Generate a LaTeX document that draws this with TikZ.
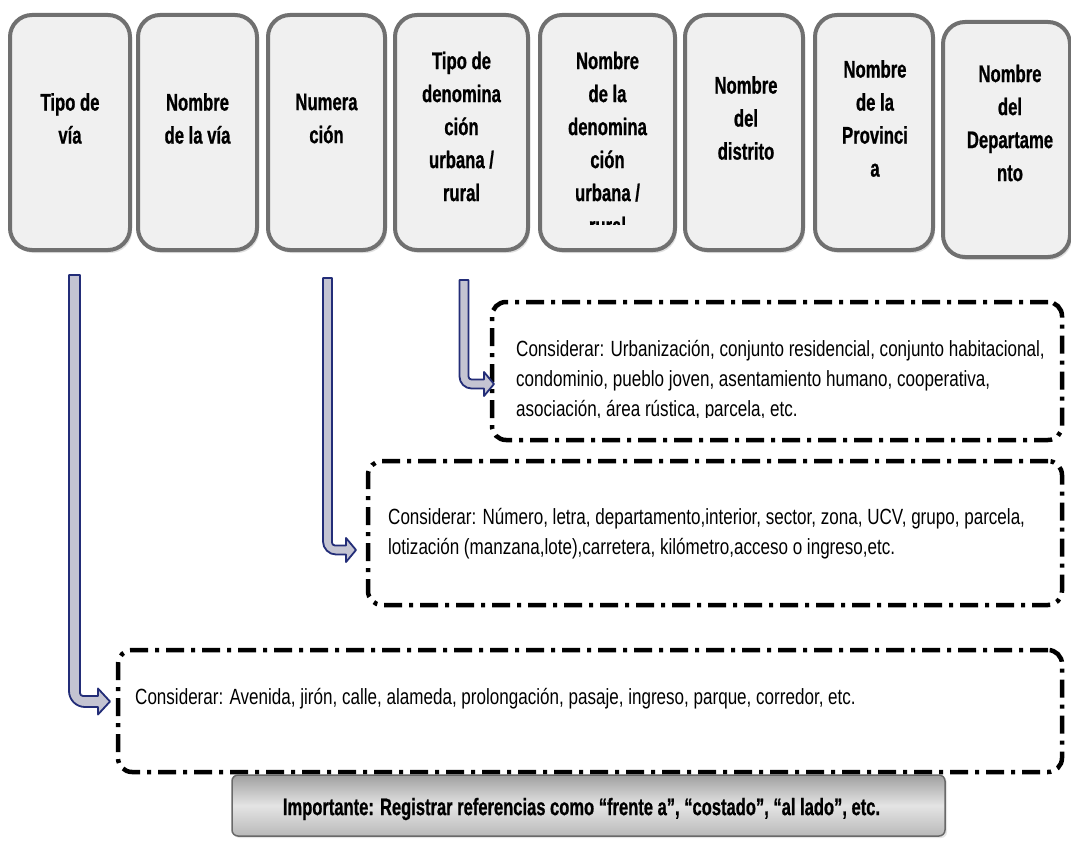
\documentclass[tikz,border=0pt]{standalone}
\usepackage{fontspec}
\setmainfont{Liberation Sans}
\newfontfamily\condbold[FakeStretch=0.695, FakeBold=0.8]{Liberation Sans Bold}
\newfontfamily\condreg[FakeStretch=0.775]{Liberation Sans}
\usetikzlibrary{shadows}

\definecolor{boxfill}{RGB}{240,240,240}
\definecolor{boxedge}{RGB}{112,112,112}
\definecolor{navy}{RGB}{35,45,120}
\definecolor{arrowfill}{RGB}{196,196,210}
\definecolor{noteedge}{RGB}{105,105,105}

\tikzset{
  field/.style={draw=boxedge, line width=4pt, fill=boxfill, rounded corners=22pt,
    inner sep=0pt, drop shadow={opacity=0.25, shadow xshift=2pt, shadow yshift=-3pt}},
  fieldlabel/.style={font={\condbold\fontsize{24}{33}\selectfont}, align=center, inner sep=0pt},
  hintbox/.style={draw=black, line width=4.5pt, dash pattern=on 18pt off 7pt on 4pt off 7pt,
    rounded corners=14pt, inner sep=0pt},
  hinttext/.style={font={\condreg\fontsize{22}{30}\selectfont}, align=left, inner sep=0pt, anchor=west},
  notebar/.style={draw=noteedge, line width=1.5pt, rounded corners=6pt, inner sep=0pt,
    top color={rgb,255:red,160;green,160;blue,160}, bottom color={rgb,255:red,185;green,185;blue,185},
    middle color={rgb,255:red,228;green,228;blue,228},
    drop shadow={opacity=0.2, shadow xshift=2pt, shadow yshift=-2pt}},
  notetext/.style={font={\condbold\fontsize{23.8}{27}\selectfont}, inner sep=0pt},
  bentarrow/.style={fill=arrowfill, draw=navy, line width=1.8pt, line join=round}
}

% bent block arrow: #1 shaft x, #2 half width, #3 top y, #4 level y,
% #5 tip x, #6 head length, #7 head half height, #8 bend radius
\newcommand\blockarrow[8]{%
  \filldraw[bentarrow] (#1-#2,#3) -- (#1-#2,#4+#2-#8)
    .. controls (#1-#2,#4+#2-0.45*#8) and (#1-#2+0.45*#8,#4+#2) .. (#1-#2+#8,#4+#2)
    -- (#5-#6,#4+#2) -- (#5-#6,#4+#7) -- (#5,#4) -- (#5-#6,#4-#7) -- (#5-#6,#4-#2)
    -- (#1+#2+3,#4-#2) .. controls (#1+#2+1.3,#4-#2) and (#1+#2,#4-#2-1.3) .. (#1+#2,#4-#2-3)
    -- (#1+#2,#3) -- cycle;}

\begin{document}
\begin{tikzpicture}[x=1pt, y=-1pt]
\useasboundingbox[fill=white] (0,0) rectangle (1071,843);

% address fields
\node[field, minimum width=120pt, minimum height=235pt] (b1) at (70,132.5) {};
\node[field, minimum width=119pt, minimum height=235pt] (b2) at (197.5,132.5) {};
\node[field, minimum width=117pt, minimum height=235pt] (b3) at (326.5,132.5) {};
\node[field, minimum width=133pt, minimum height=235pt] (b4) at (461.5,132.5) {};
\node[field, minimum width=135pt, minimum height=235pt] (b5) at (607.5,132.5) {};
\node[field, minimum width=118pt, minimum height=235pt] (b6) at (744,132.5) {};
\node[field, minimum width=118pt, minimum height=235pt] (b7) at (874,132.5) {};
\node[field, minimum width=127pt, minimum height=235pt] (b8) at (1006.5,139.5) {};

\node[fieldlabel] (t1) at (70,118.5) {Tipo de\\vía};
\node[fieldlabel] (t2) at (197.5,118.5) {Nombre\\de la vía};
\node[fieldlabel] (t3) at (326.5,118.5) {Numera\\ción};
\node[fieldlabel] (t4) at (461.5,126.5) {Tipo de\\denomina\\ción\\urbana /\\rural};
\begin{scope}
  \clip (540,15) rectangle (675,224);
  \node[fieldlabel] (t5) at (607.5,143) {Nombre\\de la\\denomina\\ción\\urbana /\\rural};
\end{scope}
\node[fieldlabel] (t6) at (746,118) {Nombre\\del\\distrito};
\node[fieldlabel] (t7) at (875,118.5) {Nombre\\de la\\Provinci\\a};
\node[fieldlabel] (t8) at (1010,123) {Nombre\\del\\Departame\\nto};

% hint frames
\node[hintbox, minimum width=570pt, minimum height=138pt] (hA) at (777,371) {};
\node[hintbox, minimum width=694pt, minimum height=144pt] (hB) at (715,533) {};
\node[hintbox, minimum width=944pt, minimum height=122pt] (hC) at (590,711) {};

\begin{scope}
  \clip (492,302) rectangle (1062,417);
  \node[hinttext] (xA) at (516,381) {Considerar: Urbanización, conjunto residencial, conjunto habitacional,\\condominio, pueblo joven, asentamiento humano, cooperativa,\\asociación, área rústica, parcela, etc.};
\end{scope}
\node[hinttext] (xB) at (388,534) {Considerar: Número, letra, departamento,interior, sector, zona, UCV, grupo, parcela,\\lotización (manzana,lote),carretera, kilómetro,acceso o ingreso,etc.};
\node[hinttext] (xC) at (135,699) {Considerar: Avenida, jirón, calle, alameda, prolongación, pasaje, ingreso, parque, corredor, etc.};

% bent arrows from the fields down to their hints
\blockarrow{74.5}{5.5}{275}{701.5}{110}{12}{13}{16}
\blockarrow{327.5}{4.5}{278}{550}{356}{10}{12}{13}
\blockarrow{464}{4.5}{280}{384}{494}{10}{12}{12}

% closing note
\node[notebar, minimum width=713pt, minimum height=61pt] (imp) at (588.5,805.5) {};
\node[notetext] (impt) at (581.5,809) {Importante: Registrar referencias como “frente a”, “costado”, “al lado”, etc.};
\end{tikzpicture}
\end{document}
